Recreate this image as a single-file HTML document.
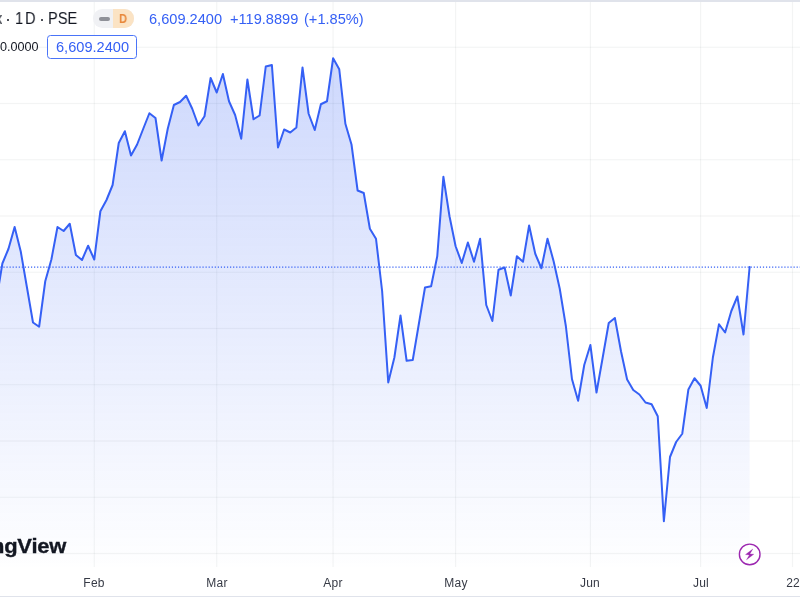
<!DOCTYPE html>
<html><head><meta charset="utf-8"><style>
html,body{margin:0;padding:0;background:#fff;}
body{width:800px;height:600px;overflow:hidden;position:relative;font-family:"Liberation Sans",sans-serif;}
.abs{position:absolute;white-space:nowrap;}
div{will-change:transform;}
.tt{top:9.3px;font-size:16px;line-height:20px;color:#131722;transform:scaleX(0.915);transform-origin:0 0;}
.tl{position:absolute;top:575.6px;width:60px;text-align:center;font-size:12px;line-height:14px;color:#363a45;letter-spacing:0.2px;}
</style></head><body>
<div class="abs" style="left:0;top:0;width:800px;height:2.2px;background:#e0e3eb"></div>
<svg class="abs" style="left:0;top:0" width="800" height="600" viewBox="0 0 800 600">
<defs><linearGradient id="g" x1="0" y1="2" x2="0" y2="567" gradientUnits="userSpaceOnUse">
<stop offset="0" stop-color="#3560f5" stop-opacity="0.27"/><stop offset="1" stop-color="#3560f5" stop-opacity="0.004"/></linearGradient></defs>
<rect x="93.65" y="2" width="1.2" height="565" fill="#2a2e39" fill-opacity="0.055"/><rect x="216.15" y="2" width="1.2" height="565" fill="#2a2e39" fill-opacity="0.055"/><rect x="332.50" y="2" width="1.2" height="565" fill="#2a2e39" fill-opacity="0.055"/><rect x="455.00" y="2" width="1.2" height="565" fill="#2a2e39" fill-opacity="0.055"/><rect x="589.80" y="2" width="1.2" height="565" fill="#2a2e39" fill-opacity="0.055"/><rect x="700.00" y="2" width="1.2" height="565" fill="#2a2e39" fill-opacity="0.055"/><rect x="791.90" y="2" width="1.2" height="565" fill="#2a2e39" fill-opacity="0.055"/><rect x="0" y="46.65" width="800" height="1.2" fill="#2a2e39" fill-opacity="0.055"/><rect x="0" y="102.90" width="800" height="1.2" fill="#2a2e39" fill-opacity="0.055"/><rect x="0" y="159.15" width="800" height="1.2" fill="#2a2e39" fill-opacity="0.055"/><rect x="0" y="215.40" width="800" height="1.2" fill="#2a2e39" fill-opacity="0.055"/><rect x="0" y="271.65" width="800" height="1.2" fill="#2a2e39" fill-opacity="0.055"/><rect x="0" y="327.90" width="800" height="1.2" fill="#2a2e39" fill-opacity="0.055"/><rect x="0" y="384.15" width="800" height="1.2" fill="#2a2e39" fill-opacity="0.055"/><rect x="0" y="440.40" width="800" height="1.2" fill="#2a2e39" fill-opacity="0.055"/><rect x="0" y="496.65" width="800" height="1.2" fill="#2a2e39" fill-opacity="0.055"/><rect x="0" y="552.90" width="800" height="1.2" fill="#2a2e39" fill-opacity="0.055"/>
<path d="M-3.75,301 L2.38,263.5 L8.5,248.75 L14.62,227 L20.75,251.5 L26.88,287 L33.0,322.5 L39.12,326.75 L45.25,281.25 L51.38,259.5 L57.5,227 L63.62,231 L69.75,223.75 L75.88,255 L82.0,260 L88.12,245.75 L94.25,259.5 L100.38,211.25 L106.5,200 L112.62,185 L118.75,143 L124.88,131.25 L131.0,155.5 L137.12,144.5 L143.25,128.75 L149.38,113.25 L155.5,118 L161.62,160.5 L167.75,128.75 L173.88,105 L180.0,102 L186.12,95.75 L192.25,108.75 L198.38,125.5 L204.5,116.25 L210.62,78 L216.75,92.5 L222.88,74 L229.0,101.25 L235.12,115 L241.25,138.75 L247.38,79.5 L253.5,119.25 L259.62,115.5 L265.75,66.5 L271.88,65 L278.0,147.5 L284.12,129.5 L290.25,132.5 L296.38,127.5 L302.5,67.5 L308.62,113.75 L314.75,130 L320.88,104.25 L327.0,101.25 L333.12,58.25 L339.25,69.25 L345.38,123.75 L351.5,144.5 L357.62,190.5 L363.75,193 L369.88,228.75 L376.0,238.75 L382.12,291 L388.25,382.5 L394.38,357.5 L400.5,315.5 L406.62,360.75 L412.75,360 L418.88,323.75 L425.0,287.5 L431.12,286.25 L437.25,256.25 L443.38,176.75 L449.5,216.25 L455.62,246.25 L461.75,263 L467.88,242.5 L474.0,261.75 L480.12,238.75 L486.25,305 L492.38,321 L498.5,269.75 L504.62,267.5 L510.75,295.5 L516.88,256.25 L523.0,261.75 L529.12,225.5 L535.25,253.75 L541.38,268.25 L547.5,238.75 L553.62,261.25 L559.75,288.75 L565.88,326.25 L572.0,379.25 L578.12,400.75 L584.25,365 L590.38,345 L596.5,392.5 L602.62,358 L608.75,323 L614.88,318 L621.0,351.25 L627.12,379.5 L633.25,390 L639.38,394.5 L645.5,402.5 L651.62,404.25 L657.75,416.25 L663.88,521.25 L670.0,457 L676.12,442 L682.25,433.75 L688.38,389.5 L694.5,378.25 L700.62,385.75 L706.75,408 L712.88,357.5 L719.0,324.25 L725.12,332.5 L731.25,311.25 L737.38,296.5 L743.5,334.5 L749.62,267 L749.62,567 L-3.75,567 Z" fill="url(#g)"/>
<path d="M-3.75,301 L2.38,263.5 L8.5,248.75 L14.62,227 L20.75,251.5 L26.88,287 L33.0,322.5 L39.12,326.75 L45.25,281.25 L51.38,259.5 L57.5,227 L63.62,231 L69.75,223.75 L75.88,255 L82.0,260 L88.12,245.75 L94.25,259.5 L100.38,211.25 L106.5,200 L112.62,185 L118.75,143 L124.88,131.25 L131.0,155.5 L137.12,144.5 L143.25,128.75 L149.38,113.25 L155.5,118 L161.62,160.5 L167.75,128.75 L173.88,105 L180.0,102 L186.12,95.75 L192.25,108.75 L198.38,125.5 L204.5,116.25 L210.62,78 L216.75,92.5 L222.88,74 L229.0,101.25 L235.12,115 L241.25,138.75 L247.38,79.5 L253.5,119.25 L259.62,115.5 L265.75,66.5 L271.88,65 L278.0,147.5 L284.12,129.5 L290.25,132.5 L296.38,127.5 L302.5,67.5 L308.62,113.75 L314.75,130 L320.88,104.25 L327.0,101.25 L333.12,58.25 L339.25,69.25 L345.38,123.75 L351.5,144.5 L357.62,190.5 L363.75,193 L369.88,228.75 L376.0,238.75 L382.12,291 L388.25,382.5 L394.38,357.5 L400.5,315.5 L406.62,360.75 L412.75,360 L418.88,323.75 L425.0,287.5 L431.12,286.25 L437.25,256.25 L443.38,176.75 L449.5,216.25 L455.62,246.25 L461.75,263 L467.88,242.5 L474.0,261.75 L480.12,238.75 L486.25,305 L492.38,321 L498.5,269.75 L504.62,267.5 L510.75,295.5 L516.88,256.25 L523.0,261.75 L529.12,225.5 L535.25,253.75 L541.38,268.25 L547.5,238.75 L553.62,261.25 L559.75,288.75 L565.88,326.25 L572.0,379.25 L578.12,400.75 L584.25,365 L590.38,345 L596.5,392.5 L602.62,358 L608.75,323 L614.88,318 L621.0,351.25 L627.12,379.5 L633.25,390 L639.38,394.5 L645.5,402.5 L651.62,404.25 L657.75,416.25 L663.88,521.25 L670.0,457 L676.12,442 L682.25,433.75 L688.38,389.5 L694.5,378.25 L700.62,385.75 L706.75,408 L712.88,357.5 L719.0,324.25 L725.12,332.5 L731.25,311.25 L737.38,296.5 L743.5,334.5 L749.62,267" fill="none" stroke="#3560f5" stroke-width="2" stroke-linejoin="round" stroke-linecap="round"/>
<line x1="0.34" y1="267.1" x2="800" y2="267.1" stroke="#3560f5" stroke-width="1.1" stroke-dasharray="1.2 1.8625"/>
<circle cx="749.7" cy="554.4" r="10.3" fill="#fff" stroke="#9c27b0" stroke-width="1.4"/>
<path d="M752.8,549 L745.5,554.6 L749.4,554.9 L746.5,559.8 L753.8,554.2 L749.9,553.9 Z" fill="#9c27b0" stroke="#9c27b0" stroke-width="0.3" stroke-linejoin="round"/>
</svg>
<div class="abs" style="left:0;top:596px;width:800px;height:1px;background:#e0e3eb"></div>
<div class="tl" style="left:64.25px">Feb</div><div class="tl" style="left:186.75px">Mar</div><div class="tl" style="left:303.10px">Apr</div><div class="tl" style="left:425.60px">May</div><div class="tl" style="left:560.40px">Jun</div><div class="tl" style="left:670.60px">Jul</div><div class="tl" style="left:762.50px">22</div>
<div class="abs tt" id="tx" style="left:-4.90px">x</div><div class="abs" style="left:7.10px;top:19.10px;width:2.3px;height:2.3px;border-radius:50%;background:#131722"></div><div class="abs tt" id="t1" style="left:14.60px">1</div><div class="abs tt" id="tD" style="left:25.40px">D</div><div class="abs" style="left:41.05px;top:19.15px;width:2.3px;height:2.3px;border-radius:50%;background:#131722"></div><div class="abs tt" id="tpse" style="left:48.00px">PSE</div>
<div class="abs" style="left:93.3px;top:9.1px;width:41px;height:18.5px;border-radius:9.25px;background:#f0f1f4;overflow:hidden;">
 <div style="position:absolute;left:20.4px;top:0;width:21px;height:19px;background:#fbe3c4"></div>
 <div style="position:absolute;left:5.9px;top:7.7px;width:10.7px;height:3.8px;border-radius:2px;background:#8f9198"></div>
 <div style="position:absolute;left:25.6px;top:3.7px;font-size:12.5px;line-height:13px;color:#e8873a;font-weight:bold;transform:scaleX(0.9);transform-origin:0 0;">D</div>
</div>
<div class="abs" id="v1" style="left:149.4px;top:8.6px;font-size:14.6px;line-height:20px;color:#3560f5;">6,609.2400</div>
<div class="abs" id="v2" style="left:230.1px;top:8.6px;font-size:14.6px;line-height:20px;color:#3560f5;">+119.8899</div>
<div class="abs" id="v3" style="left:303.6px;top:8.6px;font-size:14.6px;line-height:20px;color:#3560f5;">(+1.85%)</div>
<div class="abs" id="vol" style="left:0.2px;top:37px;font-size:12.6px;line-height:20px;color:#131722;">0.0000</div>
<div class="abs" style="left:47.3px;top:35px;width:87.6px;height:22px;border:1px solid #4a74f8;border-radius:3.5px;background:#fff;"></div>
<div class="abs" id="v4" style="left:56.1px;top:37.1px;font-size:14.6px;line-height:20px;color:#3560f5;">6,609.2400</div>
<div class="abs" id="logo" style="left:-9px;top:532.7px;font-size:20.5px;line-height:26px;font-weight:bold;color:#131722;letter-spacing:-0.2px;-webkit-text-stroke:0.35px #131722;transform:scaleX(1.07);transform-origin:0 0;">ngView</div>
</body></html>
